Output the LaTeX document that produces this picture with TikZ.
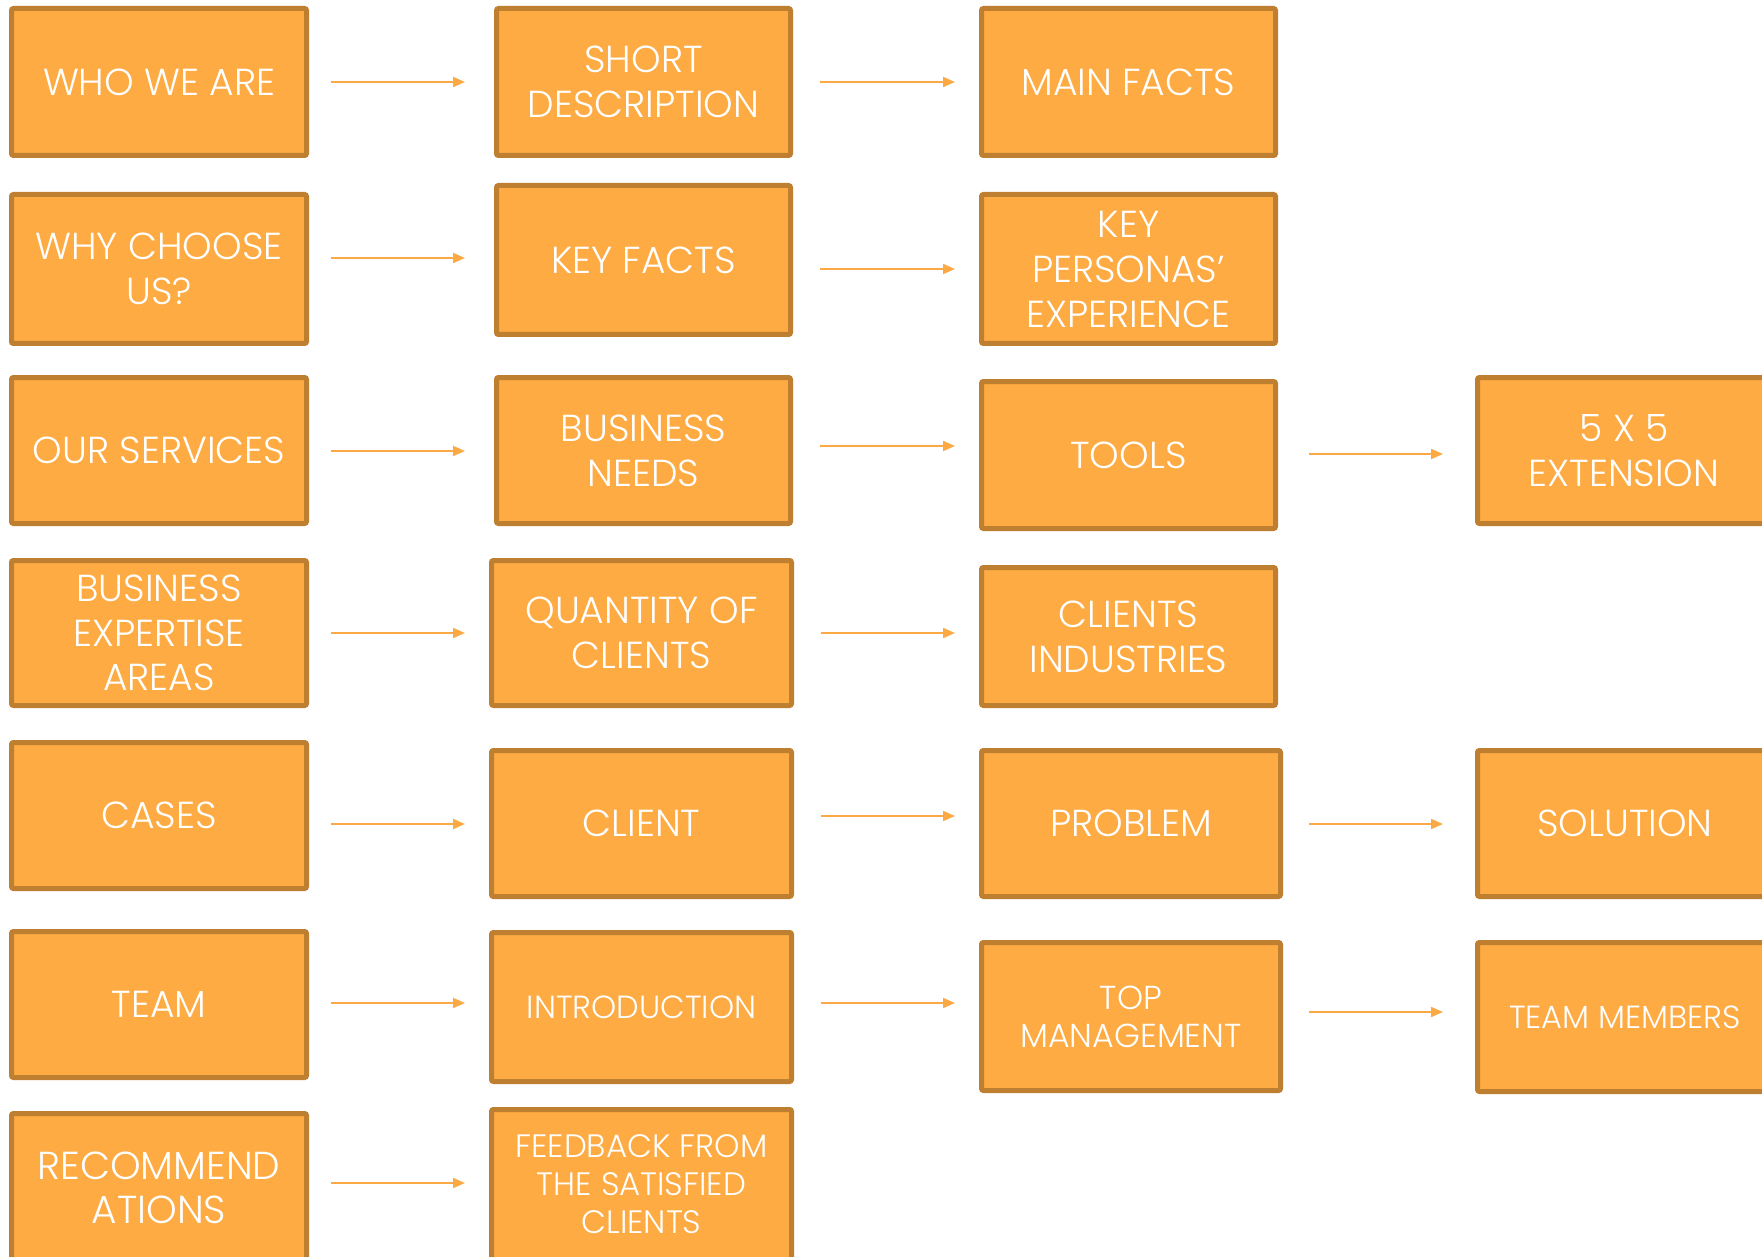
\documentclass[tikz,border=0pt]{standalone}
\usepackage{fontspec}
\setmainfont{Poppins Light}
\usetikzlibrary{arrows.meta}
\definecolor{boxfill}{HTML}{FDAB42}
\definecolor{boxline}{HTML}{BE7F31}
\definecolor{arrcol}{HTML}{FBA944}
\tikzset{
  box/.style={draw=boxline, fill=boxfill, line width=2.5pt, rounded corners=1pt,
    text=white, align=center, inner sep=0pt},
  arr/.style={draw=arrcol, line width=1pt, -{Triangle[length=6pt,width=5pt]}},
  gapAn/.style={shorten <=11pt, shorten >=14.5pt},
  gapAw/.style={shorten <=11pt, shorten >=12pt},
  gapB/.style={shorten <=13.5pt, shorten >=12pt},
  gapCn/.style={shorten <=15.5pt, shorten >=16pt},
  gapCw/.style={shorten <=13pt, shorten >=16pt}
}
% name, x1, y1, x2, y2, font size, baselineskip, text
\newcommand\bx[8]{\node[box, font=\fontsize{#6pt}{#7pt}\selectfont,
  minimum width={(#4-#2-5)*0.5pt}, minimum height={(#5-#3-5)*0.5pt}]
  (#1) at ({(#2+#4)/2},{(#3+#5)/2}) {#8};}
\newcommand\conn[4][]{\draw[arr,#1] (#2.east |- 0,#4) -- (#3.west |- 0,#4);}
\begin{document}
\begin{tikzpicture}[x={(0.5pt,0)}, y={(0,-0.5pt)}]
\useasboundingbox (0,0) rectangle (1762,1257);
\clip (0,0) rectangle (1762,1257);
\fill[white] (0,0) rectangle (1762,1257);
\def\F{18.8}\def\B{22.5}
% row 1
\bx{a1}{9}{6}{309}{158}{\F}{\B}{WHO WE ARE}
\bx{b1}{494}{6}{793}{158}{\F}{\B}{SHORT\\DESCRIPTION}
\bx{c1}{979}{6}{1278}{158}{\F}{\B}{MAIN FACTS}
% row 2
\bx{a2}{9}{192}{309}{346}{\F}{\B}{WHY CHOOSE\\US?}
\bx{b2}{494}{183}{793}{337}{\F}{\B}{KEY FACTS}
\bx{c2}{979}{192}{1278}{346}{18.8}{22.5}{KEY\\PERSONAS'\\EXPERIENCE}
% row 3
\bx{a3}{9}{375}{309}{526}{\F}{\B}{OUR SERVICES}
\bx{b3}{494}{375}{793}{526}{\F}{\B}{BUSINESS\\NEEDS}
\bx{c3}{979}{379}{1278}{531}{\F}{\B}{TOOLS}
\bx{d3}{1475}{375}{1773}{526}{\F}{\B}{5 X 5\\EXTENSION}
% row 4
\bx{a4}{9}{558}{309}{708}{\F}{22.2}{BUSINESS\\EXPERTISE\\AREAS}
\bx{b4}{489}{558}{794}{708}{\F}{\B}{QUANTITY OF\\CLIENTS}
\bx{c4}{979}{565}{1278}{708}{\F}{\B}{CLIENTS\\INDUSTRIES}
% row 5
\bx{a5}{9}{740}{309}{891}{\F}{\B}{CASES}
\bx{b5}{489}{748}{794}{899}{\F}{\B}{CLIENT}
\bx{c5}{979}{748}{1283}{899}{\F}{\B}{PROBLEM}
\bx{d5}{1475}{748}{1775}{899}{\F}{\B}{SOLUTION}
% row 6
\bx{a6}{9}{929}{309}{1080}{\F}{\B}{TEAM}
\bx{b6}{489}{930}{794}{1084}{16}{19}{INTRODUCTION}
\bx{c6}{979}{940}{1283}{1093}{16.6}{19}{TOP\\MANAGEMENT}
\bx{d6}{1475}{940}{1775}{1094}{16}{19}{TEAM MEMBERS}
% row 7
\bx{a7}{9}{1111}{309}{1264}{19.5}{22}{RECOMMEND\\ATIONS}
\bx{b7}{489}{1107}{794}{1262}{16.2}{19}{FEEDBACK FROM\\THE SATISFIED\\CLIENTS}
% connectors
\conn[gapAn]{a1}{b1}{82}  \conn[gapB]{b1}{c1}{82}
\conn[gapAn]{a2}{b2}{258} \conn[gapB]{b2}{c2}{269}
\conn[gapAn]{a3}{b3}{451} \conn[gapB]{b3}{c3}{446} \conn[gapCn]{c3}{d3}{454}
\conn[gapAw]{a4}{b4}{633} \conn[gapB]{b4}{c4}{633}
\conn[gapAw]{a5}{b5}{824} \conn[gapB]{b5}{c5}{816} \conn[gapCw]{c5}{d5}{824}
\conn[gapAw]{a6}{b6}{1003} \conn[gapB]{b6}{c6}{1003} \conn[gapCw]{c6}{d6}{1012}
\conn[gapAw]{a7}{b7}{1183}
\end{tikzpicture}
\end{document}
